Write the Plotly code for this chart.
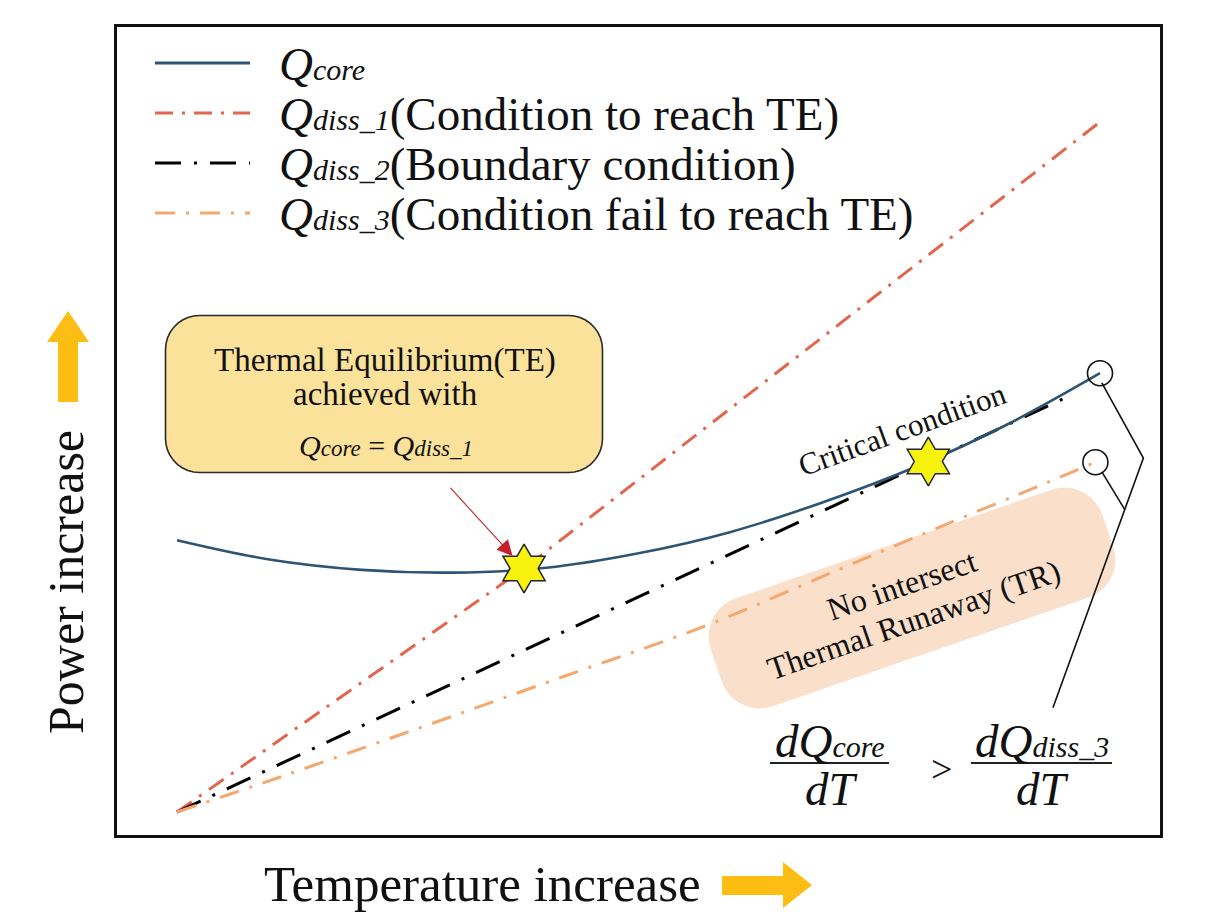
import numpy as np
import plotly.graph_objects as go

# ---------------- data (schematic units) ----------------
temperature = [0, 1, 2, 3, 4, 5, 6, 7, 8, 9, 10]
q_core = [3.94, 3.66, 3.51, 3.47, 3.54, 3.75, 4.06, 4.49, 5.00, 5.62, 6.36]

t_diss1 = [0, 3.76, 10]
q_diss1 = [0, 3.53, 10]

t_diss2 = [0, 9.62]
q_diss2 = [0, 6.0]

t_diss3 = [0, 1.08, 2.63, 4.18, 5.73, 7.11, 8.19, 9.38, 9.95]
q_diss3 = [0, 0.49, 1.22, 1.96, 2.70, 3.48, 4.09, 4.75, 5.07]

star_t = [3.76, 8.14]
star_q = [3.53, 5.08]

end_t = [10.0, 9.95]
end_q = [6.36, 5.07]

bracket1_t = [10.02, 10.47, 9.49]
bracket1_q = [6.22, 5.13, 1.51]
bracket2_t = [10.02, 10.27]
bracket2_q = [4.93, 4.38]

legend_labels = ["core", "diss_1", "diss_2", "diss_3"]
legend_notes = ["", "(Condition to reach TE)", "(Boundary condition)", "(Condition fail to reach TE)"]

# ---------------- layout helpers ----------------
OFF = 8                      # page body margin
W, H = 1214 - 2 * OFF, 920 - 2 * OFF
L, R, T, B = 117, 1160, 27, 835   # plot frame in page pixels
FONT = "Liberation Serif"


def px(x):
    return (x - L) / (R - L)


def py(y):
    return (B - y) / (B - T)


def path_from(points, close=True):
    s = "M " + " L ".join(f"{px(x):.5f},{py(y):.5f}" for x, y in points)
    return s + (" Z" if close else "")


def rounded_rect(cx, cy, w, h, r, ang=0.0, n=10):
    pts = []
    corners = [(w / 2 - r, -h / 2 + r, -90, 0), (w / 2 - r, h / 2 - r, 0, 90),
               (-w / 2 + r, h / 2 - r, 90, 180), (-w / 2 + r, -h / 2 + r, 180, 270)]
    for ccx, ccy, a0, a1 in corners:
        for a in np.linspace(np.radians(a0), np.radians(a1), n):
            pts.append((ccx + r * np.cos(a), ccy + r * np.sin(a)))
    th = np.radians(ang)
    out = []
    for dx, dy in pts:
        out.append((cx + dx * np.cos(th) + dy * np.sin(th),
                    cy - dx * np.sin(th) + dy * np.cos(th)))
    return out


C_CORE = "#2d5473"
C_D1 = "#e2664e"
C_D2 = "#000000"
C_D3 = "#f4a86e"
DASH1 = "18px,9px,3px,9px"
DASH2 = "26px,13px,3px,13px"
DASH3 = "20px,11px,3px,11px"

fig = go.Figure()

fig.add_trace(go.Scatter(x=t_diss1, y=q_diss1, mode="lines",
                         line=dict(color=C_D1, width=3, dash=DASH1), name="Q_diss_1"))
fig.add_trace(go.Scatter(x=t_diss2, y=q_diss2, mode="lines",
                         line=dict(color=C_D2, width=3, dash=DASH2), name="Q_diss_2"))
fig.add_trace(go.Scatter(x=t_diss3, y=q_diss3, mode="lines",
                         line=dict(color=C_D3, width=3, dash=DASH3, shape="spline"), name="Q_diss_3"))
fig.add_trace(go.Scatter(x=temperature, y=q_core, mode="lines",
                         line=dict(color=C_CORE, width=2.6, shape="spline"), name="Q_core"))
fig.add_trace(go.Scatter(x=bracket1_t, y=bracket1_q, mode="lines",
                         line=dict(color="#111", width=1.6)))
fig.add_trace(go.Scatter(x=bracket2_t, y=bracket2_q, mode="lines",
                         line=dict(color="#111", width=1.6)))
fig.add_trace(go.Scatter(x=end_t, y=end_q, mode="markers",
                         marker=dict(symbol="circle-open", size=25, color="#111",
                                     line=dict(width=1.6))))
fig.add_trace(go.Scatter(x=star_t, y=star_q, mode="markers",
                         marker=dict(symbol="hexagram", size=37, color="#f8f20f",
                                     line=dict(color="#222", width=1.5))))

shapes = []
annotations = []

# legend (custom)
leg_y = [63, 113, 163, 213]
leg_style = [(C_CORE, "solid", 3), (C_D1, DASH1, 3), (C_D2, DASH2, 3), (C_D3, DASH3, 3)]
for yy, (col, dsh, wd), lab, note in zip(leg_y, leg_style, legend_labels, legend_notes):
    shapes.append(dict(type="line", xref="paper", yref="paper", x0=px(155), x1=px(250),
                       y0=py(yy), y1=py(yy), line=dict(color=col, width=wd, dash=dsh)))
    annotations.append(dict(xref="paper", yref="paper", x=px(277), y=py(yy + 1),
                            xanchor="left", yanchor="middle", showarrow=False,
                            text=f"<i>Q</i><span style='font-size:30px'><i>{lab}</i></span>{note}",
                            font=dict(family=FONT, size=47, color="#111")))

# TE box
shapes.append(dict(type="path", xref="paper", yref="paper",
                   path=path_from(rounded_rect(384, 394, 437, 157, 34)),
                   fillcolor="#fbe29b", line=dict(color="#2a2a2a", width=1.6), layer="above"))
# No intersect box (below lines)
shapes.append(dict(type="path", xref="paper", yref="paper",
                   path=path_from(rounded_rect(912, 598, 414, 114, 40, ang=19)),
                   fillcolor="rgba(246,196,160,0.55)", line=dict(width=0), layer="below"))

# amber arrows
amber = "#fdbd13"
shapes.append(dict(type="path", xref="paper", yref="paper",
                   path=path_from([(68, 311), (89, 342), (78, 342), (78, 402), (58, 402), (58, 342), (47, 342)]),
                   fillcolor=amber, line=dict(width=0)))
shapes.append(dict(type="path", xref="paper", yref="paper",
                   path=path_from([(812, 885), (783, 862), (783, 876), (722, 876), (722, 895), (783, 895), (783, 908)]),
                   fillcolor=amber, line=dict(width=0)))

# fraction bars
shapes.append(dict(type="line", xref="paper", yref="paper", x0=px(770), x1=px(889),
                   y0=py(763), y1=py(763), line=dict(color="#222", width=2)))
shapes.append(dict(type="line", xref="paper", yref="paper", x0=px(971), x1=px(1112),
                   y0=py(763), y1=py(763), line=dict(color="#222", width=2)))


def txt(x, y, s, size, angle=0, anchor="center"):
    annotations.append(dict(xref="paper", yref="paper", x=px(x), y=py(y), text=s,
                            showarrow=False, textangle=angle, xanchor=anchor, yanchor="middle",
                            font=dict(family=FONT, size=size, color="#111")))


txt(385, 360, "Thermal Equilibrium(TE)", 33)
txt(385, 394, "achieved with", 33)
txt(386, 445, "<i>Q</i><span style='font-size:23px'><i>core</i></span> = "
              "<i>Q</i><span style='font-size:23px'><i>diss_1</i></span>", 30)
txt(902, 429, "Critical condition", 31, angle=-20)
txt(902, 585, "No intersect", 32, angle=-19)
txt(913, 620, "Thermal Runaway (TR)", 32, angle=-19)
txt(830, 741, "<i>dQ</i><span style='font-size:30px'><i>core</i></span>", 47)
txt(831, 789, "<i>dT</i>", 47)
txt(941, 769, "&gt;", 38)
txt(1042, 741, "<i>dQ</i><span style='font-size:30px'><i>diss_3</i></span>", 47)
txt(1042, 789, "<i>dT</i>", 47)
txt(66, 582, "Power increase", 50, angle=-90)
txt(482, 884, "Temperature increase", 51)

# red pointer arrow to TE star
annotations.append(dict(x=star_t[0], y=star_q[0], xref="x", yref="y", ax=-75, ay=-82,
                        axref="pixel", ayref="pixel", standoff=17, text="",
                        showarrow=True, arrowhead=2, arrowsize=2.8, arrowwidth=1.1,
                        arrowcolor="#c8202a"))

fig.update_layout(
    width=W, height=H,
    margin=dict(l=L - OFF, r=W - (R - OFF), t=T - OFF, b=H - (B - OFF), pad=0),
    paper_bgcolor="white", plot_bgcolor="white",
    showlegend=False,
    shapes=shapes, annotations=annotations,
    xaxis=dict(range=[-0.65, 10.65], showgrid=False, zeroline=False, showticklabels=False,
               ticks="", showline=True, mirror=True, linecolor="#111", linewidth=2.5),
    yaxis=dict(range=[-0.333, 11.377], showgrid=False, zeroline=False, showticklabels=False,
               ticks="", showline=True, mirror=True, linecolor="#111", linewidth=2.5),
)

fig.write_html("out.html")
